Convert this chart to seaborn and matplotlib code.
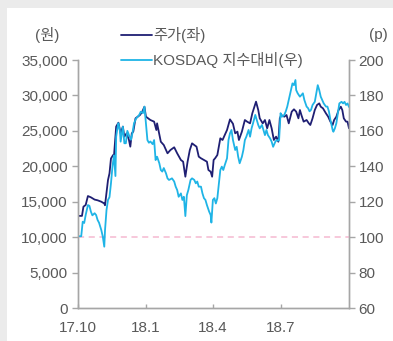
import numpy as np
import pandas as pd
import matplotlib
matplotlib.use("Agg")
import matplotlib.pyplot as plt
import matplotlib.ticker as mticker
from matplotlib.patches import Rectangle
from matplotlib.lines import Line2D
import seaborn as sns

# ---------------- data ----------------
start_date = "2017-10-01"
# days since start_date
stock_days = [0,6,8,11,14,18,23,27,32,36,37,41,43,45,48,49,52,55,58,61,63,66,69,71,73,75,78,81,84,87,
              90,92,98,103,106,107,112,116,121,125,130,134,139,142,145,148,151,154,157,160,163,166,170,174,176,179,181,183,185,188,
              192,195,198,201,205,209,212,215,217,221,225,228,232,235,240,243,245,249,252,255,
              258,261,264,267,270,272,274,278,281,284,288,291,294,297,299,301,304,308,311,313,
              316,319,322,325,327,330,334,337,340,343,345,348,351,354,356,358,361,363,365]
stock_price = [13000,13000,14300,14540,15800,15620,15300,15200,15000,14750,14500,18060,19000,21100,21600,21400,25600,26150,24650,25600,
               24180,24650,23800,22770,24650,24900,26770,27000,27240,27700,28400,27000,26530,26300,25120,26060,23470,23000,21830,22300,
               22680,21830,20890,20650,18530,20650,22300,23240,23000,22770,21360,21130,20890,20650,19480,19240,18530,20890,21130,21590,
               23950,23710,24420,25120,26620,26000,24650,24890,23710,24890,26530,26300,26060,27470,29120,27940,26770,26060,26530,25360,
               26530,25360,23710,24180,23470,26770,27240,27000,27240,26060,27710,28040,27710,26770,27940,27240,26300,26530,26060,25830,
               26770,27940,28650,28880,28410,28180,27470,27000,26300,25830,26530,27000,27940,28410,27940,26770,26300,26300,25360]

kosdaq_days = [0,5,7,9,11,14,16,18,20,23,25,27,29,32,34,36,37,39,41,43,45,47,49,51,52,54,55,57,58,61,63,65,67,70,72,74,76,79,81,83,85,88,90,
               92,94,96,98,101,103,105,107,110,112,114,116,119,121,123,125,127,130,132,134,136,139,141,143,145,147,149,152,154,157,159,161,163,166,168,170,172,174,177,179,180,
               182,184,186,188,190,192,194,196,198,201,203,205,207,209,212,214,216,218,221,223,225,227,230,232,234,236,239,241,243,245,248,250,252,254,256,259,261,263,266,268,270,
               271,273,275,278,280,282,284,287,289,291,293,294,296,299,301,303,305,308,310,312,314,316,319,321,323,325,327,329,331,334,336,338,340,343,344,346,348,350,352,355,357,359,361,363,365]
kosdaq_index = [100.5,100.5,108.7,108,112.5,118.1,117.7,114.4,112.3,113.5,112.5,109.7,108.1,104,100.3,94.6,104,115.3,121,122.6,130.4,139.8,146.2,134.5,156.7,162.4,164.3,160,153.9,162.4,153,153,160,156.7,155,159,164.3,167.1,168,169,170.8,170,173.7,
                164.3,154.8,153.3,154,152.5,154.8,143.5,145.4,141.7,137.9,137,139,136,133.2,132.3,132.7,133.2,131.4,128.5,126.6,122.8,124.7,121,122.8,111.9,123.7,126.6,132.3,133.2,132.3,130.4,131.4,128.5,128.5,124.7,122,121,118.1,114.4,112.5,108.2,
                121,122,119,122,130,137.9,139.8,137.9,140.7,144.5,154.8,158.6,160.5,154.8,149.2,151,145.4,141.7,145.4,149.2,154.8,156.7,160.5,156.7,161.4,164.3,169,166.2,163.3,161.4,163.3,160.5,157.6,160.5,157.6,155.7,153.9,151,153.9,154.8,154.5,
                154.8,170,168,169,171,173.7,177.4,183,186.8,185.8,188.7,183,181.2,179.3,180.2,181.2,177.4,173.7,172.8,171,171.9,174.6,176.4,181.2,185.8,183,179.3,177.4,175.5,173.7,173.7,171,166.2,160.5,159.5,161.4,164.3,170,175.5,176.4,175.5,176.4,174.6,175.5,173.5]

series_labels = ["주가(좌)", "KOSDAQ 지수대비(우)"]
x_tick_dates = ["2017-10-01", "2018-01-01", "2018-04-01", "2018-07-01"]
x_tick_labels = ["17.10", "18.1", "18.4", "18.7"]
left_ticks = [0, 5000, 10000, 15000, 20000, 25000, 30000, 35000]
right_ticks = [60, 80, 100, 120, 140, 160, 180, 200]
baseline = 100
left_unit = "(원)"
right_unit = "(p)"

# ---------------- build frames ----------------
t0 = pd.Timestamp(start_date)
df_stock = pd.DataFrame({"date": t0 + pd.to_timedelta(stock_days, unit="D"), "value": stock_price})
df_kosdaq = pd.DataFrame({"date": t0 + pd.to_timedelta(kosdaq_days, unit="D"), "value": kosdaq_index})

# ---------------- style ----------------
sns.set_theme(style="white")
plt.rcParams["font.family"] = ["Liberation Sans", "Noto Sans CJK KR", "DejaVu Sans"]
TXT = "#595959"
SPINE = "#a6a6a6"
DARK = "#1f1f73"
LIGHT = "#1fb4e6"
FS = 11

W, H = 393, 341
fig = plt.figure(figsize=(W / 100, H / 100), dpi=100)
fig.patch.set_facecolor("#ebebeb")
fig.patches.append(Rectangle((7 / W, 0), 1, 1 - 8 / H, transform=fig.transFigure,
                             facecolor="white", edgecolor="none", zorder=-5))

ax = fig.add_axes([77.5 / W, 1 - 308 / H, (349 - 77.5) / W, (308 - 60) / H])
ax.set_facecolor("none")
ax2 = ax.twinx()
ax2.set_facecolor("none")

sns.lineplot(data=df_stock, x="date", y="value", ax=ax, color=DARK, linewidth=1.3, legend=False)
sns.lineplot(data=df_kosdaq, x="date", y="value", ax=ax2, color=LIGHT, linewidth=1.3, legend=False)
ax2.axhline(baseline, color="#f5b9d1", linestyle=(0, (4, 3)), linewidth=1.1, zorder=0)

xmin = t0
xmax = t0 + pd.Timedelta(days=max(stock_days))
ax.set_xlim(xmin, xmax)
ax.set_ylim(left_ticks[0], left_ticks[-1])
ax2.set_ylim(right_ticks[0], right_ticks[-1])

ax.set_xticks(pd.to_datetime(x_tick_dates))
ax.set_xticklabels(x_tick_labels)
ax.set_yticks(left_ticks)
ax.yaxis.set_major_formatter(mticker.FuncFormatter(lambda v, p: f"{int(v):,}"))
ax2.set_yticks(right_ticks)
ax2.yaxis.set_major_formatter(mticker.FuncFormatter(lambda v, p: f"{int(v)}"))

for a in (ax, ax2):
    a.set_xlabel("")
    a.set_ylabel("")
    a.grid(False)
    for s in a.spines.values():
        s.set_color(SPINE)
        s.set_linewidth(1.0)
    a.spines["top"].set_visible(False)

ax.tick_params(axis="y", direction="out", length=4, width=1, color=SPINE, labelsize=FS, labelcolor=TXT, pad=3, left=True)
ax.tick_params(axis="x", direction="in", length=3, width=1, color=SPINE, labelsize=FS, labelcolor=TXT, pad=9, bottom=True)
ax2.tick_params(axis="y", direction="out", length=4, width=1, color=SPINE, labelsize=FS, labelcolor=TXT, pad=3, right=True)

fig.text(47 / W, 1 - 35 / H, left_unit, ha="center", va="center", fontsize=FS, color=TXT)
fig.text(378 / W, 1 - 35 / H, right_unit, ha="center", va="center", fontsize=FS, color=TXT)

handles = [Line2D([], [], color=DARK, linewidth=1.3), Line2D([], [], color=LIGHT, linewidth=1.3)]
fig.legend(handles, series_labels, loc="upper left", bbox_to_anchor=(121 / W, 1 - 27 / H),
           frameon=False, fontsize=FS, handlelength=2.0, handletextpad=0.1,
           labelspacing=0.6, borderpad=0, borderaxespad=0, labelcolor=TXT)

fig.savefig("out.png", dpi=100)
